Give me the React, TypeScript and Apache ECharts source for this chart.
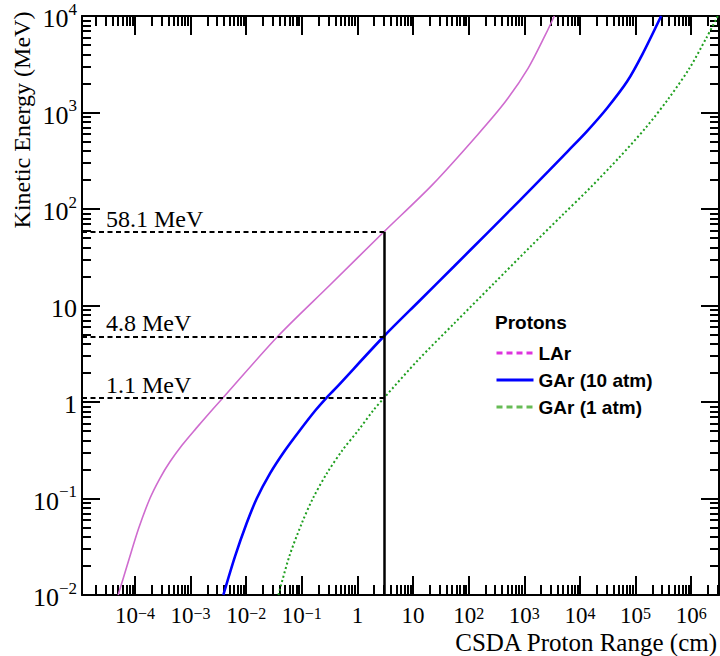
import React, { useEffect, useRef } from 'react';
import * as echarts from 'echarts';

// ---- axis decades (exponents of 10) ----
const xDecades = [-4, -3, -2, -1, 0, 1, 2, 3, 4, 5, 6];
const yDecades = [-2, -1, 0, 1, 2, 3, 4];
const xRangeMin = 1.12e-5; // cm
const xRangeMax = 3.16e6; // cm
const yEnergyMin = 0.01; // MeV
const yEnergyMax = 1e4; // MeV

// ---- LAr (range in cm vs kinetic energy in MeV) ----
const larEnergy = [0.01, 0.0221, 0.0491, 0.1, 0.162, 0.24, 0.358, 0.533, 0.794, 1.1, 4.8, 16.3, 58.1, 179, 589, 1306, 2884, 6397, 10000];
const larRange = [5.0e-5, 7.6e-5, 1.17e-4, 1.86e-4, 2.82e-4, 4.27e-4, 7.08e-4, 1.26e-3, 2.29e-3, 3.80e-3, 0.0372, 0.321, 3.0, 22.4, 145, 462, 1175, 2399, 3467];

// ---- GAr 10 atm ----
const gar10Energy = [0.01, 0.0251, 0.0553, 0.1, 0.182, 0.316, 0.513, 0.826, 1.1, 1.35, 4.8, 11.4, 25.2, 56, 123, 245, 396, 638, 1114, 2104, 3981, 10000];
const gar10Range = [3.89e-3, 6.31e-3, 0.0102, 0.0155, 0.0269, 0.0501, 0.0933, 0.178, 0.275, 0.389, 3.0, 13.5, 53.7, 214, 832, 2692, 6026, 13335, 30900, 70800, 131800, 288400];

// ---- GAr 1 atm ----
const gar1Energy = [0.01, 0.0251, 0.0553, 0.1, 0.182, 0.316, 0.513, 0.826, 1.1, 2.72, 6.53, 17.0, 40.7, 87.1, 165, 339, 692, 1413, 2884, 5888, 10000];
const gar1Range = [0.038, 0.0596, 0.1, 0.158, 0.282, 0.537, 1.05, 1.95, 3.0, 12.3, 55, 286, 1288, 4898, 15140, 50120, 151400, 398100, 933300, 1862000, 3020000];

// ---- annotations ----
const markerEnergies = [58.1, 4.8, 1.1];
const markerLabels = ['58.1 MeV', '4.8 MeV', '1.1 MeV'];
const markerRange = 3.0; // cm

const seriesNames = ['LAr', 'GAr (10 atm)', 'GAr (1 atm)'];

const SERIF = '"Liberation Serif", "Times New Roman", serif';
const SANS = '"Liberation Sans", Arial, sans-serif';

const lg = (v: number) => Math.log10(v);

function minorTicks(lo: number, hi: number): number[] {
  const out: number[] = [];
  for (let n = Math.floor(lo); n <= Math.ceil(hi); n++) {
    for (let k = 2; k <= 9; k++) {
      const v = n + Math.log10(k);
      if (v > lo && v < hi) out.push(v);
    }
  }
  return out;
}

function expLabel(v: number): string {
  const n = Math.round(v);
  if (n === 0) return '{b|1}';
  if (n === 1) return '{b|10}';
  return `{b|10}{s|${n < 0 ? '\u2212' : ''}${Math.abs(n)}}`;
}

function richFor(size: number, supSize: number, bLine: number, sLine: number) {
  return {
    b: { fontFamily: SERIF, fontSize: size, color: '#000', lineHeight: bLine, verticalAlign: 'bottom' },
    s: { fontFamily: SERIF, fontSize: supSize, color: '#000', lineHeight: sLine, verticalAlign: 'top' },
  };
}

function zip(r: number[], e: number[]) {
  return r.map((v, i) => [lg(v), lg(e[i])]);
}

export default function App() {
  const ref = useRef<HTMLDivElement>(null);
  useEffect(() => {
    if (!ref.current) return;
    const chart = echarts.init(ref.current, undefined, { renderer: 'svg' });
    const xMin = lg(xRangeMin);
    const xMax = lg(xRangeMax);
    const yMin = lg(yEnergyMin);
    const yMax = lg(yEnergyMax);
    const xMinor = minorTicks(xMin, xMax);
    const yMinor = minorTicks(yMin, yMax);
    const black = { color: '#000', width: 2 };

    const xAxisBase = { type: 'value', min: xMin, max: xMax, gridIndex: 0, splitLine: { show: false } };
    const yAxisBase = { type: 'value', min: yMin, max: yMax, gridIndex: 0, splitLine: { show: false } };

    const xAxis = [
      {
        ...xAxisBase, position: 'bottom',
        axisLine: { show: true, onZero: false, lineStyle: black },
        axisTick: { show: true, inside: true, length: 19, customValues: xDecades, lineStyle: black },
        axisLabel: { show: true, customValues: xDecades, margin: 10, formatter: expLabel, rich: richFor(23, 16, 22, 9) },
      },
      {
        ...xAxisBase, position: 'bottom',
        axisLine: { show: false, onZero: false },
        axisTick: { show: true, inside: true, length: 10, customValues: xMinor, lineStyle: black },
        axisLabel: { show: false },
      },
      {
        ...xAxisBase, position: 'top',
        axisLine: { show: true, onZero: false, lineStyle: black },
        axisTick: { show: true, inside: true, length: 19, customValues: xDecades, lineStyle: black },
        axisLabel: { show: false },
      },
      {
        ...xAxisBase, position: 'top',
        axisLine: { show: false, onZero: false },
        axisTick: { show: true, inside: true, length: 10, customValues: xMinor, lineStyle: black },
        axisLabel: { show: false },
      },
    ];
    const yAxis = [
      {
        ...yAxisBase, position: 'left',
        axisLine: { show: true, onZero: false, lineStyle: black },
        axisTick: { show: true, inside: true, length: 18, customValues: yDecades, lineStyle: black },
        axisLabel: { show: true, customValues: yDecades, margin: 5, formatter: expLabel, rich: richFor(26, 17, 31, 18) },
      },
      {
        ...yAxisBase, position: 'left',
        axisLine: { show: false, onZero: false },
        axisTick: { show: true, inside: true, length: 9, customValues: yMinor, lineStyle: black },
        axisLabel: { show: false },
      },
      {
        ...yAxisBase, position: 'right',
        axisLine: { show: true, onZero: false, lineStyle: black },
        axisTick: { show: true, inside: true, length: 18, customValues: yDecades, lineStyle: black },
        axisLabel: { show: false },
      },
      {
        ...yAxisBase, position: 'right',
        axisLine: { show: false, onZero: false },
        axisTick: { show: true, inside: true, length: 9, customValues: yMinor, lineStyle: black },
        axisLabel: { show: false },
      },
    ];

    const xMark = lg(markerRange);
    const markData: any[] = markerEnergies.map((e, i) => [
      { coord: [xMin, lg(e)], name: markerLabels[i] },
      { coord: [xMark, lg(e)] },
    ]);
    markData.push([
      { coord: [xMark, lg(markerEnergies[0])], name: '', lineStyle: { type: 'solid', width: 2.5, color: '#000' }, label: { show: false } },
      { coord: [xMark, yMin] },
    ]);

    const legendHidden = { opacity: 0 };

    const option: any = {
      animation: false,
      grid: { left: 82, right: 1, top: 16, bottom: 61, containLabel: false, outerBoundsMode: 'none' },
      title: {
        text: 'Protons', left: 495, top: 313, padding: 0,
        textStyle: { fontFamily: SANS, fontWeight: 'bold', fontSize: 19, color: '#000' },
      },
      legend: {
        orient: 'vertical', left: 495, top: 343, padding: 0,
        itemWidth: 37, itemHeight: 14, itemGap: 7, selectedMode: false,
        textStyle: { fontFamily: SANS, fontWeight: 'bold', fontSize: 19, color: '#000', lineHeight: 20 },
        data: [
          { name: seriesNames[0], itemStyle: legendHidden, lineStyle: { type: [6, 4], color: '#dd33dd', width: 3 } },
          { name: seriesNames[1], itemStyle: legendHidden, lineStyle: { type: 'solid', color: '#0000ff', width: 3 } },
          { name: seriesNames[2], itemStyle: legendHidden, lineStyle: { type: [6, 4], color: '#66bb55', width: 3 } },
        ],
      },
      xAxis,
      yAxis,
      graphic: [
        {
          type: 'text', x: 22, y: 120, rotation: Math.PI / 2,
          style: { text: 'Kinetic Energy (MeV)', font: `24px ${SERIF}`, fill: '#000', align: 'center', verticalAlign: 'middle', textAlign: 'center', textVerticalAlign: 'middle' },
        },
        {
          type: 'text', x: 717, y: 642,
          style: { text: 'CSDA Proton Range (cm)', font: `25px ${SERIF}`, fill: '#000', align: 'right', verticalAlign: 'middle', textAlign: 'right', textVerticalAlign: 'middle' },
        },
      ],
      series: [
        {
          name: seriesNames[0], type: 'line', xAxisIndex: 0, yAxisIndex: 0, symbol: 'none', silent: true, smooth: 0.3,
          data: zip(larRange, larEnergy),
          lineStyle: { color: '#cf6ccf', width: 1.6 }, itemStyle: { color: '#cf6ccf' },
        },
        {
          name: seriesNames[1], type: 'line', xAxisIndex: 0, yAxisIndex: 0, symbol: 'none', silent: true, smooth: 0.3,
          data: zip(gar10Range, gar10Energy),
          lineStyle: { color: '#0000ff', width: 2.6 }, itemStyle: { color: '#0000ff' },
        },
        {
          name: seriesNames[2], type: 'line', xAxisIndex: 0, yAxisIndex: 0, symbol: 'none', silent: true, smooth: 0.3,
          data: zip(gar1Range, gar1Energy),
          lineStyle: { color: '#1f9f1f', width: 2, type: [2, 2.5] }, itemStyle: { color: '#1f9f1f' },
        },
        {
          name: 'markers', type: 'line', xAxisIndex: 0, yAxisIndex: 0, symbol: 'none', silent: true,
          data: [],
          markLine: {
            silent: true, symbol: ['none', 'none'], animation: false,
            lineStyle: { color: '#000', width: 2, type: [5, 3.5] },
            label: {
              show: true, position: 'insideStartTop', formatter: '{b}', distance: [24, 1],
              fontFamily: SERIF, fontSize: 24, color: '#000',
            },
            emphasis: { disabled: true },
            data: markData,
          },
        },
      ],
    };
    chart.setOption(option);
    return () => chart.dispose();
  }, []);
  return <div ref={ref} style={{ position: 'absolute', left: 0, top: 0, width: 720, height: 656 }} />;
}
